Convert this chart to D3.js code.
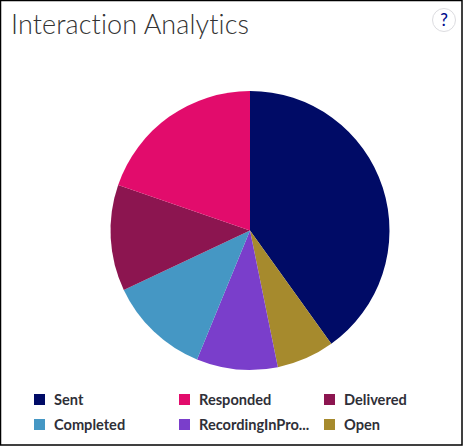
<!DOCTYPE html>
<html>
<head>
<meta charset="utf-8">
<script src="https://cdn.jsdelivr.net/npm/d3@7"></script>
<style>
html, body { margin: 0; padding: 0; background: #fff; overflow: hidden; }
svg { display: block; }
</style>
</head>
<body>
<svg id="chart" width="463" height="446"></svg>
<script>
const categories = ['Sent', 'Open', 'RecordingInPro...', 'Completed', 'Delivered', 'Responded']
const counts = [401, 67, 94, 118, 123, 197]
const colors = ['#000b66', '#a68a2d', '#7a3ecb', '#4597c4', '#8c1550', '#e20c6c']
const legendOrder = ['Sent', 'Responded', 'Delivered', 'Completed', 'RecordingInPro...', 'Open']

const svg = d3.select('#chart')
const fontFamily = 'Lato, sans-serif'

// card border
svg.append('rect').attr('x', 0.5).attr('y', 0.5).attr('width', 461.5).attr('height', 444.5)
    .attr('fill', '#fff').attr('stroke', '#000').attr('stroke-width', 1.5)

svg.append('text').attr('x', 11).attr('y', 34)
    .style('font-family', fontFamily).style('font-size', '27px').style('font-weight', 300)
    .style('letter-spacing', '0.1px')
    .attr('fill', '#333').text('Interaction Analytics')

// help button
svg.append('circle').attr('cx', 444).attr('cy', 20).attr('r', 11.5)
    .attr('fill', '#fff').attr('stroke', '#dcdce0')
svg.append('text').attr('x', 444).attr('y', 26).attr('text-anchor', 'middle')
    .style('font-family', fontFamily).style('font-size', '17px').style('font-weight', 500)
    .attr('fill', '#000b8c').text('?')

const color = d3.scaleOrdinal(categories, colors)
const pie = d3.pie().sort(null).value((d, i) => counts[i])
const path = d3.arc().outerRadius(139.5).innerRadius(0)

svg.append('g').attr('transform', 'translate(250, 230.5)')
    .selectAll('path').data(pie(categories)).enter().append('path')
    .attr('d', path).attr('fill', d => color(d.data))

const colX = d3.scalePoint().domain([0, 1, 2]).range([34, 324])
const rowY = d3.scalePoint().domain([0, 1]).range([400, 425])

const items = svg.selectAll('.item').data(legendOrder).enter().append('g')
    .attr('class', 'item')
    .attr('transform', (d, i) => `translate(${colX(i % 3)}, ${rowY(Math.floor(i / 3))})`)

items.append('rect').attr('y', -6).attr('width', 11).attr('height', 11).attr('fill', d => color(d))
items.append('text').attr('x', 20).attr('y', 5)
    .style('font-family', fontFamily).style('font-size', '14.6px').style('font-weight', 700)
    .attr('fill', '#2f2f38').text(d => d)
</script>
</body>
</html>
